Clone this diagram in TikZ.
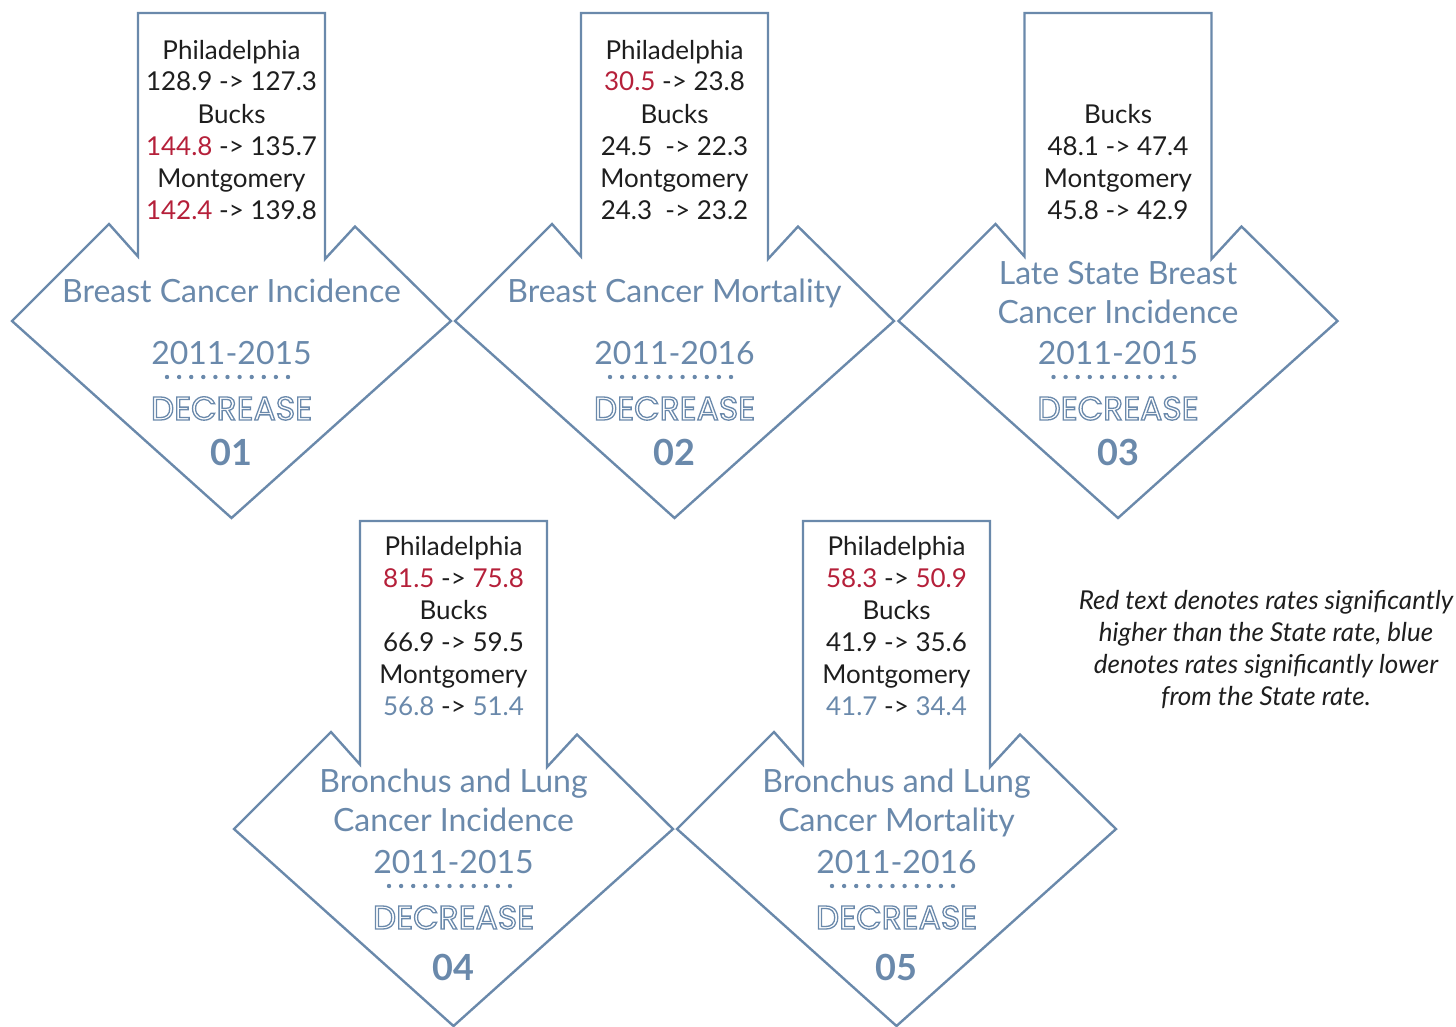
\documentclass[tikz,border=0pt]{standalone}
\usepackage{fontspec}
\setmainfont{Lato}
\newfontfamily\decfont{Poppins}
\usetikzlibrary{positioning}
\definecolor{steel}{HTML}{6A89AB}
\definecolor{hired}{HTML}{B5203A}
\definecolor{ink}{HTML}{1E1E1E}
\newcommand{\hi}[1]{\textcolor{hired}{#1}}
\newcommand{\lo}[1]{\textcolor{steel}{#1}}
\newcommand{\hollow}[1]{\special{pdf:literal direct 1 Tr 1.3 w}#1\special{pdf:literal direct 0 Tr 0.4 w}}

\tikzstyle{arrowshape} = [draw=steel, line width=2.4pt, line join=miter]
\tikzstyle{rates} = [align=center, text=ink, inner sep=0pt,
font=\fontsize{26}{32}\selectfont]
\tikzstyle{title} = [align=center, text=steel, inner sep=0pt,
font=\fontsize{32}{39}\selectfont]
\tikzstyle{years} = [text=steel, inner sep=0pt, font=\fontsize{32}{36}\selectfont]
\tikzstyle{change} = [text=steel, inner sep=0pt,
font=\decfont\fontsize{33}{36}\selectfont]
\tikzstyle{number} = [text=steel, inner sep=0pt,
font=\bfseries\fontsize{36}{40}\selectfont]
\tikzstyle{note} = [align=center, text=ink, inner sep=0pt,
font=\itshape\fontsize{26}{32}\selectfont]

\begin{document}
\begin{tikzpicture}[x=1pt, y=-1pt]
\useasboundingbox (0,0) rectangle (1456,1027);

% the five arrow outlines and their dotted rules
\foreach \cx/\cy/\dy in {231.5/321/56, 674.5/321/56, 1118/321/56, 453.5/829/57, 896.5/829/57}{
\draw[arrowshape] (\cx-93.5,\cy-308) -- (\cx+93.5,\cy-308) -- (\cx+93.5,\cy-62)
-- (\cx+123.5,\cy-94.5) -- (\cx+219.5,\cy) -- (\cx,\cy+197) -- (\cx-219.5,\cy)
-- (\cx-122.5,\cy-97) -- (\cx-93.5,\cy-64.5) -- cycle;
\foreach \i in {0,...,10}
\fill[steel] (\cx-64.5+\i*12.1,\cy+\dy) circle (2.2pt);
}

% 01
\node(rates1)[rates, anchor=base] at (231.5,219){Philadelphia\\128.9 -> 127.3\\Bucks\\
\hi{144.8} -> 135.7\\Montgomery\\\hi{142.4} -> 139.8};
\node(title1)[title, anchor=base] at (231.5,302){Breast Cancer Incidence};
\node(years1)[years, anchor=base] at (231.5,364){2011-2015};
\node(change1)[change, anchor=base] at (231.5,420){\hollow{DECREASE}};
\node(num1)[number, anchor=base] at (231.5,465){01};

% 02
\node(rates2)[rates, anchor=base] at (674.5,219){Philadelphia\\\hi{30.5} -> 23.8\\Bucks\\
24.5\ \ -> 22.3\\Montgomery\\24.3\ \ -> 23.2};
\node(title2)[title, anchor=base] at (674.5,302){Breast Cancer Mortality};
\node(years2)[years, anchor=base] at (674.5,364){2011-2016};
\node(change2)[change, anchor=base] at (674.5,420){\hollow{DECREASE}};
\node(num2)[number, anchor=base] at (674.5,465){02};

% 03
\node(rates3)[rates, anchor=base] at (1118,219){Bucks\\48.1 -> 47.4\\Montgomery\\45.8 -> 42.9};
\node(title3)[title, anchor=base] at (1118,323){Late State Breast\\Cancer Incidence};
\node(years3)[years, anchor=base] at (1118,364){2011-2015};
\node(change3)[change, anchor=base] at (1118,420){\hollow{DECREASE}};
\node(num3)[number, anchor=base] at (1118,465){03};

% 04
\node(rates4)[rates, anchor=base] at (453.5,715){Philadelphia\\\hi{81.5} -> \hi{75.8}\\Bucks\\
66.9 -> 59.5\\Montgomery\\\lo{56.8} -> \lo{51.4}};
\node(title4)[title, anchor=base] at (453.5,831){Bronchus and Lung\\Cancer Incidence};
\node(years4)[years, anchor=base] at (453.5,873){2011-2015};
\node(change4)[change, anchor=base] at (453.5,929){\hollow{DECREASE}};
\node(num4)[number, anchor=base] at (453.5,980){04};

% 05
\node(rates5)[rates, anchor=base] at (896.5,715){Philadelphia\\\hi{58.3} -> \hi{50.9}\\Bucks\\
41.9 -> 35.6\\Montgomery\\\lo{41.7} -> \lo{34.4}};
\node(title5)[title, anchor=base] at (896.5,831){Bronchus and Lung\\Cancer Mortality};
\node(years5)[years, anchor=base] at (896.5,873){2011-2016};
\node(change5)[change, anchor=base] at (896.5,929){\hollow{DECREASE}};
\node(num5)[number, anchor=base] at (896.5,980){05};

% legend
\node(legend)[note, anchor=base] at (1266,705){Red text denotes rates significantly\\
higher than the State rate, blue\\denotes rates significantly lower\\from the State rate.};

\end{tikzpicture}
\end{document}
